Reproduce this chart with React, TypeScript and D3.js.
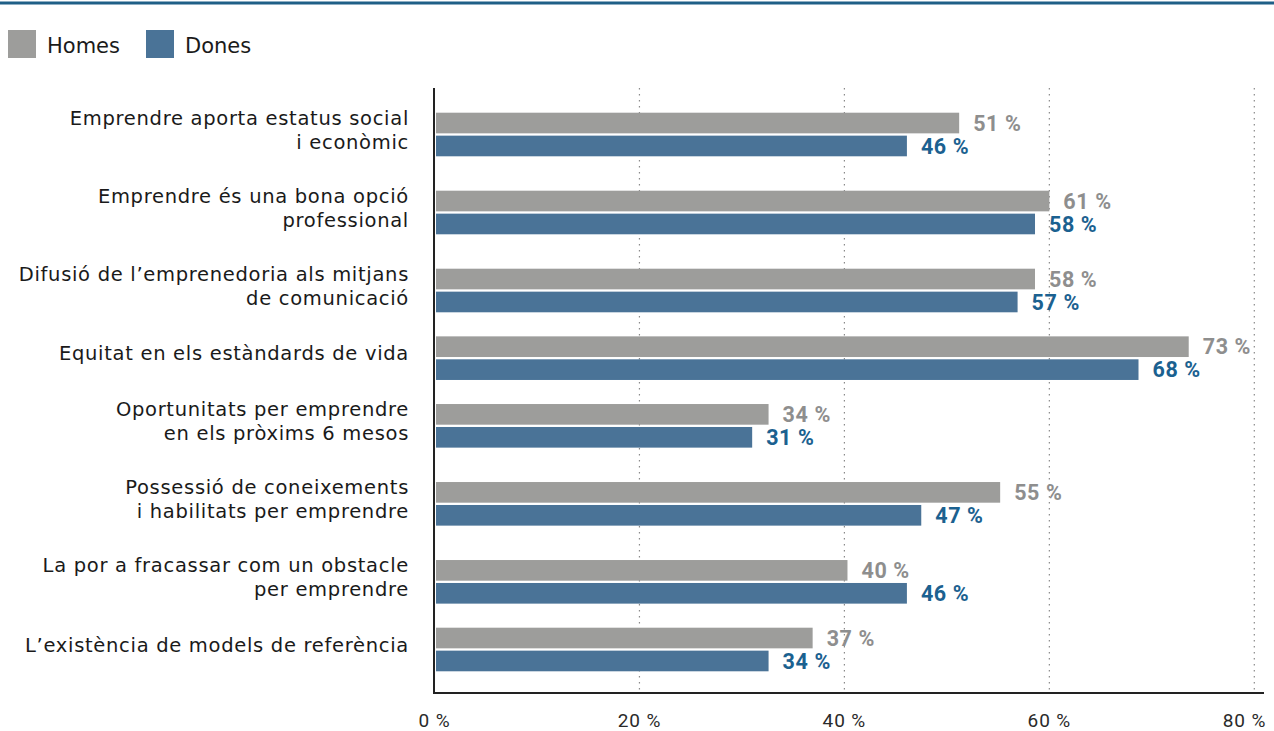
import React from "react";
import * as d3 from "d3";

const categories: string[][] = [
  ["Emprendre aporta estatus social", "i econòmic"],
  ["Emprendre és una bona opció", "professional"],
  ["Difusió de l’emprenedoria als mitjans", "de comunicació"],
  ["Equitat en els estàndards de vida"],
  ["Oportunitats per emprendre", "en els pròxims 6 mesos"],
  ["Possessió de coneixements", "i habilitats per emprendre"],
  ["La por a fracassar com un obstacle", "per emprendre"],
  ["L’existència de models de referència"],
];

const seriesNames = ["Homes", "Dones"];
const homesValues = [51.2, 60.0, 58.6, 73.6, 32.6, 55.2, 40.3, 36.9];
const donesValues = [46.1, 58.6, 56.9, 68.7, 31.0, 47.5, 46.1, 32.6];
const homesLabels = ["51 %", "61 %", "58 %", "73 %", "34 %", "55 %", "40 %", "37 %"];
const donesLabels = ["46 %", "58 %", "57 %", "68 %", "31 %", "47 %", "46 %", "34 %"];
const xTicks = [0, 20, 40, 60, 80];

const W = 1274;
const H = 731;
const barColors = ["#9d9d9b", "#4a7397"];
const labelColors = ["#8e8e8e", "#1b6190"];

export default function App() {
  const x = d3.scaleLinear().domain([0, 80]).range([434.5, 1254.3]);

  // group weights from number of label lines
  const weights = categories.map((c) => (c.length === 1 ? 0.735 : 1));
  const cum: number[] = [];
  let acc = 0;
  weights.forEach((w) => {
    cum.push(acc + w / 2);
    acc += w;
  });
  const yg = d3.scaleLinear().domain([0, acc]).range([95.5, 95.5 + 78 * acc]);
  const centers = cum.map((c) => yg(c));

  const inner = d3
    .scaleBand<string>()
    .domain(seriesNames)
    .range([-21.8, 21.8])
    .paddingInner(0.1);

  const series = [
    { name: "Homes", values: homesValues, labels: homesLabels },
    { name: "Dones", values: donesValues, labels: donesLabels },
  ];

  const plotTop = 88;
  const plotBottom = 693;

  return (
    <svg
      width={W}
      height={H}
      style={{ position: "absolute", left: 0, top: 0, background: "#fff" }}
    >
      <line x1={0} x2={W} y1={3} y2={3} stroke="#1f5f87" strokeWidth={3} />

      {/* legend */}
      {seriesNames.map((s, i) => {
        const lx = [8, 146][i];
        return (
          <g key={s}>
            <rect x={lx} y={30} width={28} height={28} fill={barColors[i]} />
            <text
              x={lx + 39}
              y={52.5}
              fontFamily="DejaVu Sans"
              fontSize={21}
              fill="#1a1a1a"
            >
              {s}
            </text>
          </g>
        );
      })}

      {/* gridlines */}
      {xTicks
        .filter((t) => t > 0)
        .map((t) => (
          <line
            key={t}
            x1={x(t)}
            x2={x(t)}
            y1={plotTop}
            y2={plotBottom}
            stroke="#8a8a8a"
            strokeWidth={1.2}
            strokeDasharray="1.5,4.5"
          />
        ))}

      {/* bars */}
      {categories.map((cat, ci) => {
        const cy = centers[ci];
        return (
          <g key={ci}>
            {series.map((s, si) => {
              const by = cy + (inner(s.name) as number);
              const bh = inner.bandwidth();
              return (
                <g key={s.name}>
                  <rect
                    x={x(0) + 1.5}
                    y={by}
                    width={x(s.values[ci]) - x(0) - 1.5}
                    height={bh}
                    fill={barColors[si]}
                  />
                  <text
                    x={x(s.values[ci]) + 14}
                    y={by + bh / 2}
                    dy="0.36em"
                    fontFamily="Roboto"
                    fontWeight={700}
                    fontSize={21.5}
                    letterSpacing={0.6}
                    fill={labelColors[si]}
                  >
                    {s.labels[ci]}
                  </text>
                </g>
              );
            })}
            <text
              x={409}
              y={cy - 5}
              textAnchor="end"
              fontFamily="DejaVu Sans"
              fontSize={19.5}
              letterSpacing={0.7}
              fill="#1a1a1a"
            >
              {cat.map((line, li) => (
                <tspan
                  key={li}
                  x={409}
                  y={cy - 5 + (li - (cat.length - 1) / 2) * 24}
                  dy="0.36em"
                >
                  {line}
                </tspan>
              ))}
            </text>
          </g>
        );
      })}

      {/* axes */}
      <line x1={434} x2={434} y1={plotTop} y2={plotBottom + 1} stroke="#222" strokeWidth={2} />
      <line x1={433} x2={1264} y1={plotBottom} y2={plotBottom} stroke="#222" strokeWidth={2} />

      {xTicks.map((t, i) => {
        const last = i === xTicks.length - 1;
        return (
          <text
            key={t}
            x={last ? x(t) + 12 : x(t)}
            y={727}
            textAnchor={last ? "end" : "middle"}
            fontFamily="Roboto"
            fontSize={19}
            letterSpacing={0.9}
            fill="#2a2a2a"
          >
            {`${t} %`}
          </text>
        );
      })}
    </svg>
  );
}
